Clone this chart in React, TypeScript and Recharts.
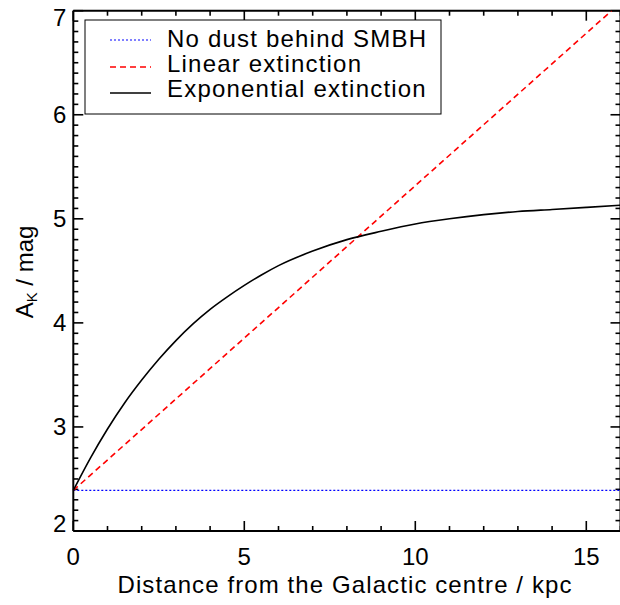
import React from 'react'
import { LineChart, Line, XAxis, YAxis, Legend, ReferenceLine } from 'recharts'

// distance from the Galactic centre (kpc) and A_K (mag)
const DIST = [0, 0.5, 1, 1.5, 2, 2.5, 3, 3.5, 4, 4.5, 5, 5.5, 6, 7, 8, 9, 10, 11, 12, 13, 14, 15, 16]
const EXP_AK = [2.39, 2.7, 2.98, 3.23, 3.45, 3.65, 3.83, 3.99, 4.13, 4.25, 4.36, 4.46, 4.55, 4.69, 4.8, 4.88, 4.95, 5.0, 5.04, 5.07, 5.09, 5.11, 5.13]
const LINEAR_DIST = [0, 15.74]
const LINEAR_AK = [2.39, 7.0]
const NODUST_DIST = [0, 16]
const NODUST_AK = [2.39, 2.39]

const X_MAJOR = [0, 5, 10, 15]
const Y_MAJOR = [2, 3, 4, 5, 6, 7]
const X_DOMAIN: [number, number] = [0, 16]
const Y_DOMAIN: [number, number] = [2, 7]

const SERIES = [
  { key: 'nodust', name: 'No dust behind SMBH', color: '#0000ff', dash: '2 2', width: 1.2 },
  { key: 'linear', name: 'Linear extinction', color: '#ff0000', dash: '6 4', width: 1.6 },
  { key: 'exp', name: 'Exponential extinction', color: '#000000', dash: undefined, width: 1.6 },
]

const FONT = '"Liberation Sans", Arial, Helvetica, sans-serif'

// chart geometry (plot runs slightly past the 620px crop on the right, like the original)
const W = 630, H = 605
const MARGIN = { top: 10.7, right: 9.5, left: 13.3, bottom: 44 }
const Y_AXIS_W = 60, X_AXIS_H = 30
const PLOT_W = W - MARGIN.left - MARGIN.right - Y_AXIS_W
const PLOT_H = H - MARGIN.top - MARGIN.bottom - X_AXIS_H
// tick lengths (px) -> data units
const xPerPx = (X_DOMAIN[1] - X_DOMAIN[0]) / PLOT_W
const yPerPx = (Y_DOMAIN[1] - Y_DOMAIN[0]) / PLOT_H

const zip = (xs: number[], ys: number[]) => xs.map((x, i) => ({ x, y: ys[i] }))

const xTicks: number[] = []
for (let i = 0; i <= 16; i++) xTicks.push(i)
const yTicks: number[] = []
for (let i = 20; i <= 70; i++) yTicks.push(i / 10)

const isMajor = (v: number, majors: number[]) => majors.some(m => Math.abs(m - v) < 1e-6)

function BottomLabel(props: any) {
  if (!isMajor(props.payload.value, X_MAJOR)) return <g />
  return (
    <text x={props.x} y={Number(props.y) + 34} textAnchor="middle" fontSize={24} fontFamily={FONT} fill="#000">
      {props.payload.value}
    </text>
  )
}

function LeftLabel(props: any) {
  const v = props.payload.value
  if (!isMajor(v, Y_MAJOR)) return <g />
  const off = v === 2 ? 1 : v === 7 ? 15 : 8.5
  return (
    <text x={Number(props.x) - 7} y={Number(props.y) + off} textAnchor="end" fontSize={24} fontFamily={FONT} fill="#000">
      {v}
    </text>
  )
}

function LegendBox() {
  return (
    <svg width={620} height={605} style={{ position: 'absolute', left: 0, top: 0, pointerEvents: 'none' }}>
      <rect x={85} y={20} width={356} height={94} fill="#fff" stroke="#000" strokeWidth={1} />
      {SERIES.map((s, i) => {
        const ly = [40, 67, 93][i]
        const ty = [47, 72, 97][i]
        return (
          <g key={s.key}>
            <line x1={110} x2={151} y1={ly} y2={ly} stroke={s.color} strokeWidth={s.width} strokeDasharray={s.dash} />
            <text x={167} y={ty} fontSize={24} fontFamily={FONT} letterSpacing={1.2} fill="#000">
              {s.name}
            </text>
          </g>
        )
      })}
    </svg>
  )
}

function YTitle() {
  return (
    <text transform="translate(33,272) rotate(-90)" textAnchor="middle" fontSize={24} fontFamily={FONT} fill="#000">
      A<tspan fontSize={15} dy={4}>K</tspan><tspan dy={-4}> / mag</tspan>
    </text>
  )
}

function XTitle() {
  return (
    <text x={345} y={593} textAnchor="middle" fontSize={24} fontFamily={FONT} letterSpacing={1.1} fill="#000">
      Distance from the Galactic centre / kpc
    </text>
  )
}

export default function App() {
  const data = {
    nodust: zip(NODUST_DIST, NODUST_AK),
    linear: zip(LINEAR_DIST, LINEAR_AK),
    exp: zip(DIST, EXP_AK),
  }
  const axisLine = { stroke: '#000', strokeWidth: 2 }
  const refProps = { xAxisId: 'b', yAxisId: 'l', stroke: '#000', strokeWidth: 1.6, ifOverflow: 'visible' as const }

  // inward tick marks on all four sides
  const marks: React.ReactNode[] = []
  xTicks.forEach(v => {
    const len = (isMajor(v, X_MAJOR) ? 10 : 5) * yPerPx
    marks.push(<ReferenceLine key={`xb${v}`} {...refProps} segment={[{ x: v, y: Y_DOMAIN[0] }, { x: v, y: Y_DOMAIN[0] + len }]} />)
    marks.push(<ReferenceLine key={`xt${v}`} {...refProps} segment={[{ x: v, y: Y_DOMAIN[1] }, { x: v, y: Y_DOMAIN[1] - len }]} />)
  })
  yTicks.forEach(v => {
    const len = (isMajor(v, Y_MAJOR) ? 10 : 5) * xPerPx
    marks.push(<ReferenceLine key={`yl${v}`} {...refProps} segment={[{ x: X_DOMAIN[0], y: v }, { x: X_DOMAIN[0] + len, y: v }]} />)
    marks.push(<ReferenceLine key={`yr${v}`} {...refProps} segment={[{ x: X_DOMAIN[1], y: v }, { x: X_DOMAIN[1] - len, y: v }]} />)
  })

  return (
    <div style={{ position: 'absolute', left: 0, top: 0, width: 620, height: 605, overflow: 'hidden', background: '#fff' }}>
      <LineChart width={W} height={H} margin={MARGIN}>
        <XAxis
          xAxisId="b" type="number" dataKey="x" domain={X_DOMAIN} ticks={xTicks} interval={0}
          height={X_AXIS_H} tickSize={0} tickMargin={0} tickLine={false} axisLine={axisLine}
          tick={<BottomLabel />} label={{ content: () => <XTitle /> }}
        />
        <YAxis
          yAxisId="l" type="number" domain={Y_DOMAIN} ticks={yTicks} interval={0} allowDataOverflow
          width={Y_AXIS_W} tickSize={0} tickMargin={0} tickLine={false} axisLine={axisLine}
          tick={<LeftLabel />} label={{ content: () => <YTitle /> }}
        />
        {/* top and right frame */}
        <ReferenceLine {...refProps} y={Y_DOMAIN[1]} strokeWidth={2} />
        <ReferenceLine {...refProps} x={X_DOMAIN[1]} strokeWidth={2} />
        {marks}
        <Legend layout="horizontal" verticalAlign="middle" align="center" content={<LegendBox />}
          wrapperStyle={{ position: 'absolute', left: 0, top: 0, width: 620, height: 605 }} />
        {SERIES.map(s => (
          <Line
            key={s.key} xAxisId="b" yAxisId="l" data={data[s.key as keyof typeof data]} dataKey="y" name={s.name}
            type={s.key === 'exp' ? 'monotone' : 'linear'} stroke={s.color} strokeWidth={s.width}
            strokeDasharray={s.dash} dot={false} activeDot={false} isAnimationActive={false}
          />
        ))}
      </LineChart>
    </div>
  )
}
